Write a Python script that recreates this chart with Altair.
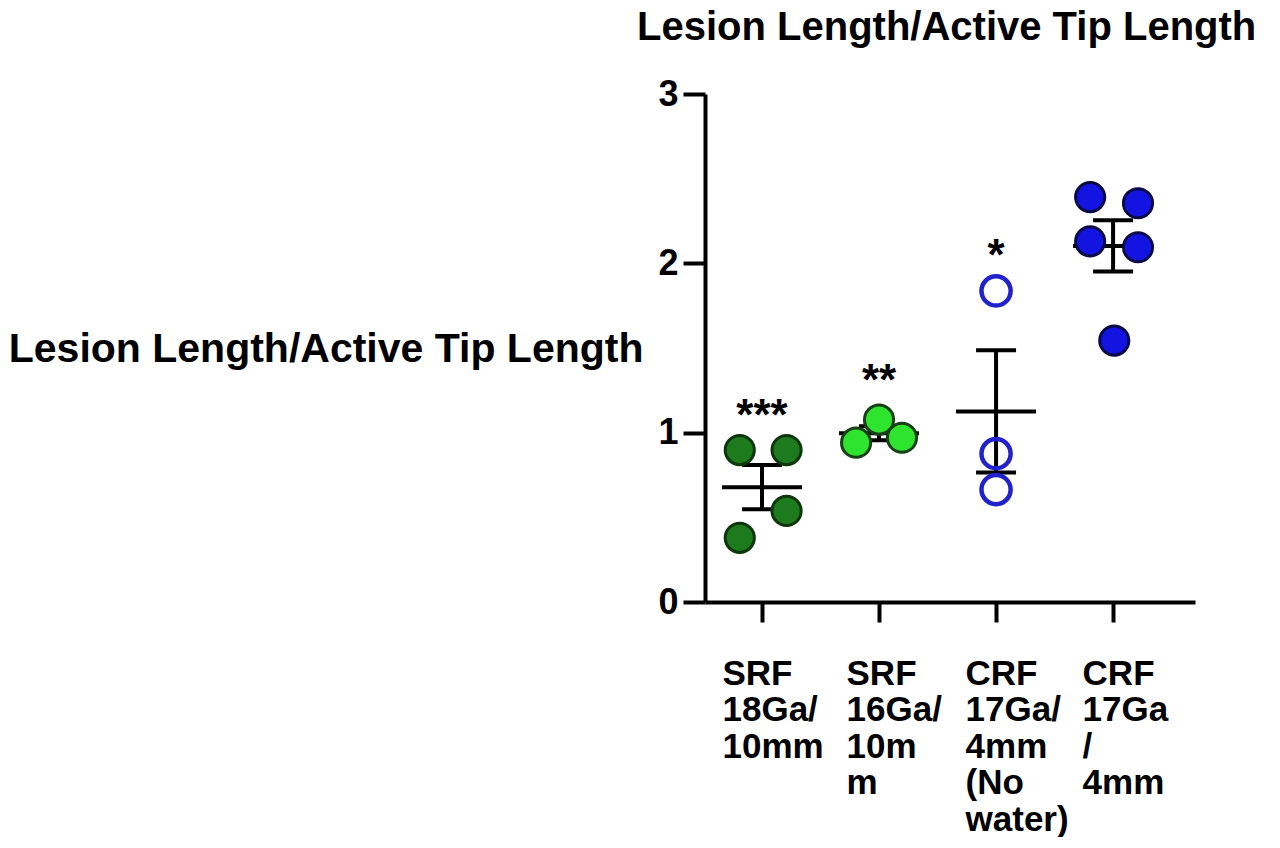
import altair as alt
import pandas as pd

FONT = "Liberation Sans"

# ---- data ----
groups = ["SRF 18Ga/10mm", "SRF 16Ga/10mm", "CRF 17Ga/4mm (No water)", "CRF 17Ga/4mm"]
label_lines = [
    ["SRF", "18Ga/", "10mm"],
    ["SRF", "16Ga/", "10m", "m"],
    ["CRF", "17Ga/", "4mm", "(No", "water)"],
    ["CRF", "17Ga", "/", "4mm"],
]
g1_values = [0.897, 0.897, 0.538, 0.379]
g1_jitter = [-0.19, 0.21, 0.21, -0.19]
g2_values = [0.941, 1.077, 0.970]
g2_jitter = [-0.196, 0.0, 0.196]
g3_values = [1.837, 0.876, 0.664]
g3_jitter = [0.0, 0.0, 0.0]
g4_values = [2.391, 2.355, 2.130, 2.095, 1.544]
g4_jitter = [-0.196, 0.213, -0.196, 0.213, 0.01]
stars = ["***", "**", "*"]
star_y = [1.166, 1.37, 2.11]
y_ticks = [0, 1, 2, 3]
title_text = "Lesion Length/Active Tip Length"

# ---- table ----
rows = []
for i, (vals, jit) in enumerate([(g1_values, g1_jitter), (g2_values, g2_jitter),
                                 (g3_values, g3_jitter), (g4_values, g4_jitter)]):
    for v, j in zip(vals, jit):
        rows.append({"group": groups[i], "idx": i + 1, "xpos": i + 1 + j, "value": v})
df = pd.DataFrame(rows)
star_df = pd.DataFrame({"idx": [1, 2, 3], "y": star_y, "txt": stars})

label_expr = ""
for k, lines in enumerate(label_lines):
    arr = "[" + ",".join("'" + s + "'" for s in lines) + "]"
    if k < len(label_lines) - 1:
        label_expr += f"datum.value == {k + 1} ? {arr} : "
    else:
        label_expr += arr

x_scale = alt.Scale(domain=[0.513, 4.70], nice=False, zero=False)
y_scale = alt.Scale(domain=[0, 3], nice=False, zero=True)

x_axis = alt.Axis(values=[1, 2, 3, 4], labelExpr=label_expr, title=None, grid=False,
                  domainWidth=4, domainColor="black", tickWidth=4, tickColor="black",
                  tickSize=20, labelFont=FONT, labelFontWeight="bold", labelFontSize=35,
                  labelColor="black", labelAlign="left",
                  labelOffset=alt.ExprRef(expr="datum.value == 1 ? -40 : (datum.value == 2 ? -33 : -31)"),
                  labelBaseline="top",
                  labelPadding=34, labelLineHeight=36.5, labelOverlap=False, labelFlush=False)
y_axis = alt.Axis(values=y_ticks, grid=False, domainWidth=4, domainColor="black",
                  tickWidth=4, tickColor="black", tickSize=22, labelFont=FONT,
                  labelFontWeight="bold", labelFontSize=36, labelColor="black",
                  labelPadding=5, labelFlush=False, format="d",
                  title=title_text, titleAngle=0, titleAlign="right",
                  titleBaseline="alphabetic", titleX=-62, titleY=267,
                  titleFont=FONT, titleFontSize=41, titleFontWeight="bold",
                  titleColor="black")


def X(field):
    return alt.X(field, type="quantitative", scale=x_scale, axis=x_axis)


def Y(field):
    return alt.Y(field, type="quantitative", scale=y_scale, axis=y_axis)


summ = alt.Chart(df).transform_aggregate(
    mean="mean(value)", se="stderr(value)", groupby=["idx"]
).transform_calculate(lo="datum.mean - datum.se", hi="datum.mean + datum.se")

rule = summ.mark_rule(color="black", strokeWidth=4, opacity=1).encode(
    x=X("idx"), y=Y("lo"), y2="hi:Q",
)
mean_tick = summ.mark_tick(orient="horizontal", size=80, thickness=4, color="black",
                           opacity=1).encode(x=X("idx"), y=Y("mean"))
caps = summ.transform_fold(["lo", "hi"], as_=["k", "v"]).mark_tick(
    orient="horizontal", size=40, thickness=4, color="black", opacity=1).encode(
    x=X("idx"), y=Y("v"))

points = alt.Chart(df).mark_circle(size=850, opacity=1).encode(
    x=X("xpos"), y=Y("value"),
    fill=alt.Fill("group:N", scale=alt.Scale(domain=groups,
                  range=["#1d7a1d", "#2ee42e", "rgba(255,255,255,0)", "#1414e2"]), legend=None),
    stroke=alt.Stroke("group:N", scale=alt.Scale(domain=groups,
                      range=["#0d360d", "#164016", "#2222cc", "#0a0a48"]), legend=None),
    strokeWidth=alt.condition(alt.datum.group == groups[2], alt.value(4.5), alt.value(3)),
)

star_text = alt.Chart(star_df).mark_text(font=FONT, fontSize=44, fontWeight="bold",
                                         color="black", baseline="alphabetic", dy=25).encode(
    x=X("idx"), y=Y("y"), text="txt:N",
)

chart = alt.layer(rule, mean_tick, caps, points, star_text).properties(
    width=490, height=508, padding=0,
    title=alt.TitleParams(title_text, anchor="start", frame="group", dx=-68, offset=28,
                          font=FONT, fontSize=40, fontWeight="bold", color="black"),
).configure_view(stroke=None)

chart.save("out.html", embed_options={"renderer": "svg", "actions": False})
